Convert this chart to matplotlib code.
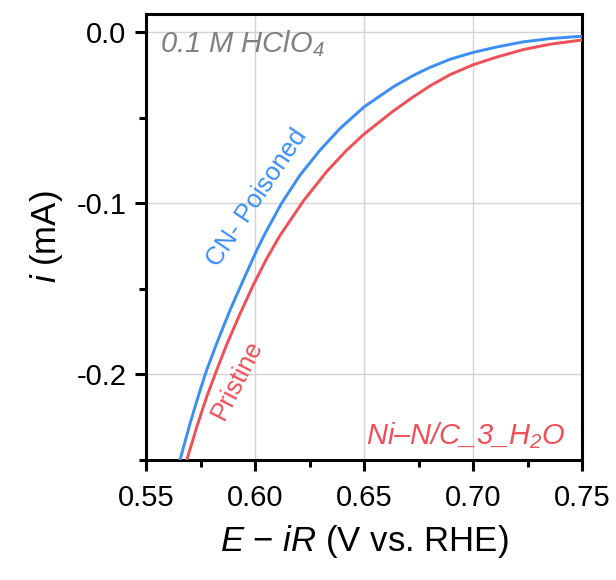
import numpy as np
import matplotlib
matplotlib.use("Agg")
import matplotlib.pyplot as plt
from matplotlib.ticker import MultipleLocator

# datos (E en V, i en mA)
e_poisoned = [0.5656, 0.5702, 0.5748, 0.5778, 0.5824, 0.5885, 0.5946, 0.6008, 0.6045,
              0.6122, 0.6206, 0.6298, 0.6390, 0.6500, 0.6634, 0.6725, 0.6803, 0.6894,
              0.7000, 0.7109, 0.7231, 0.7353, 0.7500]
i_poisoned = [-0.250, -0.2287, -0.2093, -0.1976, -0.182, -0.1626, -0.145, -0.1275, -0.118,
              -0.100, -0.0837, -0.0691, -0.0564, -0.0438, -0.0321, -0.0255, -0.0207, -0.0160,
              -0.0120, -0.0088, -0.0058, -0.0039, -0.0025]

e_pristine = [0.5687, 0.5733, 0.5778, 0.5824, 0.5870, 0.5931, 0.5992, 0.6053, 0.6115,
              0.6222, 0.6329, 0.6421, 0.6500, 0.6634, 0.6725, 0.6803, 0.6894, 0.7000,
              0.7109, 0.7231, 0.7353, 0.7500]
i_pristine = [-0.250, -0.2307, -0.2132, -0.1976, -0.1826, -0.1647, -0.1478, -0.1325, -0.1188,
              -0.0987, -0.0815, -0.0690, -0.0597, -0.0462, -0.0380, -0.0315, -0.0250, -0.0192,
              -0.0147, -0.0103, -0.0072, -0.0047]

x_ticks = [0.55, 0.60, 0.65, 0.70, 0.75]
y_ticks = [0.0, -0.1, -0.2]

plt.rcParams['font.family'] = ['Liberation Sans', 'DejaVu Sans']
plt.rcParams['mathtext.fontset'] = 'custom'
plt.rcParams['mathtext.rm'] = 'Liberation Sans:italic'
plt.rcParams['mathtext.it'] = 'Liberation Sans:italic'
plt.rcParams['axes.unicode_minus'] = False

blue = '#3a8ef6'
red = '#ef4f57'

fig = plt.figure(figsize=(6.16, 5.8), dpi=100)
ax = fig.add_axes([0.237, 0.207, 0.708, 0.769])

ax.plot(e_poisoned, i_poisoned, color=blue, lw=2.1, zorder=3, solid_joinstyle='round')
ax.plot(e_pristine, i_pristine, color=red, lw=2.1, zorder=3, solid_joinstyle='round')

ax.set_xlim(0.55, 0.75)
ax.set_ylim(-0.25, 0.0105)
ax.set_xticks(x_ticks)
ax.set_xticklabels([f"{v:.2f}" for v in x_ticks])
ax.set_yticks(y_ticks)
ax.set_yticklabels([f"{v:.1f}" if v != 0 else "0.0" for v in y_ticks])
ax.xaxis.set_minor_locator(MultipleLocator(0.025))
ax.yaxis.set_minor_locator(MultipleLocator(0.05))

ax.grid(True, which='major', color='#d3d3d3', lw=1.0, zorder=0)
for s in ax.spines.values():
    s.set_linewidth(2.2)
ax.tick_params(which='major', direction='out', length=8, width=2.2, labelsize=21)
ax.tick_params(axis='x', which='major', pad=9)
ax.tick_params(axis='y', which='major', pad=6)
ax.tick_params(which='minor', direction='out', length=5, width=2.2)
ax.tick_params(top=False, right=False, which='both')

ax.set_xlabel(r"$E$ − $iR$ (V vs. RHE)", fontsize=25, labelpad=8)
ax.set_ylabel(r"$i$ (mA)", fontsize=25, labelpad=8)

ax.text(0.032, 0.968, r"$0.1\ M\ HClO_4$", transform=ax.transAxes, color='#808080',
        fontsize=21, ha='left', va='top')
ax.text(0.962, 0.035, r"$Ni$–$N/C\_3\_H_2O$", transform=ax.transAxes, color=red,
        fontsize=21, ha='right', va='baseline')

ax.text(0.6011, -0.0968, "CN- Poisoned", color=blue, fontsize=18.5, rotation=56,
        ha='center', va='center', rotation_mode='anchor')
ax.text(0.5920, -0.2029, "Pristine", color=red, fontsize=18.5, rotation=63,
        ha='center', va='center', rotation_mode='anchor')

fig.savefig("out.png", dpi=100)
